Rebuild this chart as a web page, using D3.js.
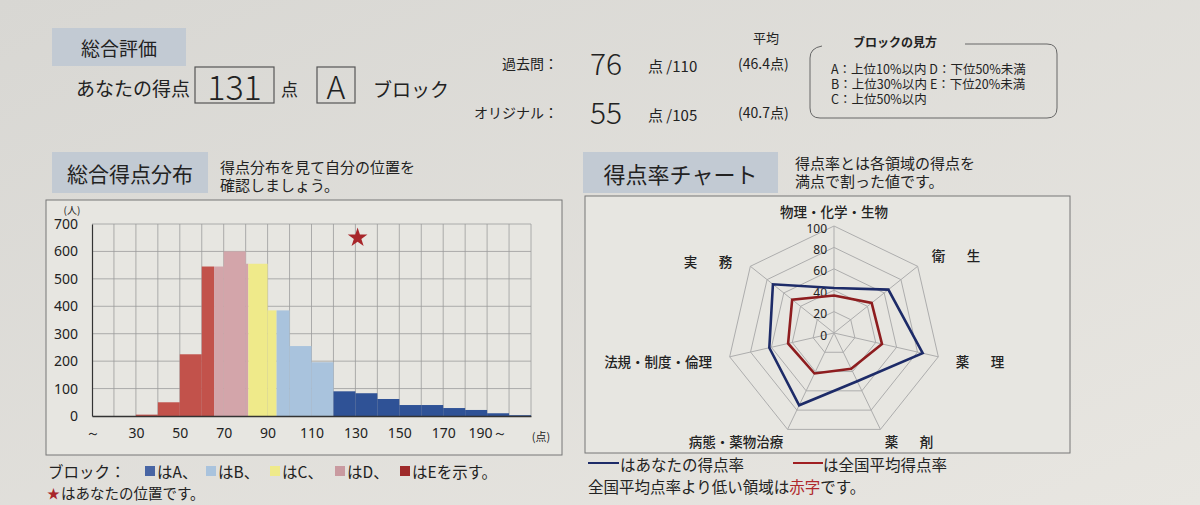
<!DOCTYPE html>
<html>
<head>
<meta charset="utf-8">
<script src="https://cdn.jsdelivr.net/npm/d3@7"></script>
<style>
body { margin: 0; background: #e3e1dc; }
svg { display: block; font-family: "Noto Sans CJK JP", "Noto Sans", sans-serif; }
</style>
</head>
<body>
<div id="sheet"></div>
<script>
// ---- 総合得点分布 (score histogram) ----
const binStart = [10, 20, 30, 40, 50, 60, 70, 80, 90, 100, 110, 120, 130, 140, 150, 160, 170, 180, 190, 200];
const binCount = [0, 0, 5, 50, 225, 545, 600, 555, 385, 255, 196, 90, 83, 62, 40, 40, 29, 22, 10, 3];
const yTicks = [0, 100, 200, 300, 400, 500, 600, 700];
const xTickVals = [10, 30, 50, 70, 90, 110, 130, 150, 170, 190];
const xTickText = ["～", "30", "50", "70", "90", "110", "130", "150", "170", "190～"];
// block boundaries (score where each block starts)
const blockName = ["E", "D", "C", "B", "A"];
const blockFrom = [0, 65.6, 81.2, 94.1, 120];
const myScore = 131;
const myMark = 650;

// ---- 得点率チャート (radar) ----
const areas = ["物理・化学・生物", "衛　生", "薬　理", "薬　剤", "病態・薬物治療", "法規・制度・倫理", "実　務"];
const myRate = [42, 65, 85, 50, 75, 62, 73];
const avgRate = [35, 45, 46, 37, 42, 44, 50];
const rateTicks = [0, 20, 40, 60, 80, 100];

const W = 1200, H = 505;
const svg = d3.select("#sheet").append("svg").attr("width", W).attr("height", H);

// paper
const defs = svg.append("defs");
const grad = defs.append("linearGradient").attr("id", "paper")
    .attr("x1", 0).attr("y1", 0).attr("x2", 1).attr("y2", 1);
grad.append("stop").attr("offset", "0%").attr("stop-color", "#d8d7d3");
grad.append("stop").attr("offset", "100%").attr("stop-color", "#e8e6e1");
svg.append("rect").attr("width", W).attr("height", H).attr("fill", "url(#paper)");

function txt(x, y, s, size, opt) {
    opt = opt || {};
    return svg.append("text")
        .attr("x", x).attr("y", y)
        .attr("font-size", size)
        .attr("dominant-baseline", "central")
        .attr("text-anchor", opt.anchor || "start")
        .attr("font-weight", opt.weight || 400)
        .attr("font-family", opt.family || null)
        .attr("fill", opt.fill || "#222")
        .text(s);
}

function headBox(x, y, w, h, label, size) {
    svg.append("rect").attr("x", x).attr("y", y).attr("width", w).attr("height", h)
        .attr("fill", "#c2cad3");
    txt(x + w / 2, y + h / 2, label, size, {anchor: "middle"});
}

// ================= 総合評価 =================
headBox(52, 28, 134, 38, "総合評価", 19);
txt(76, 87, "あなたの得点", 19);
svg.append("rect").attr("x", 195).attr("y", 67).attr("width", 79).attr("height", 36)
    .attr("fill", "none").attr("stroke", "#555").attr("stroke-width", 1.2);
txt(234.5, 85, "131", 34, {anchor: "middle", weight: 300});
txt(281, 88, "点", 17);
svg.append("rect").attr("x", 317).attr("y", 67).attr("width", 38).attr("height", 36)
    .attr("fill", "none").attr("stroke", "#555").attr("stroke-width", 1.2);
txt(336, 85, "A", 32, {anchor: "middle", weight: 300});
txt(373, 88, "ブロック", 19);

txt(766, 37, "平均", 13, {anchor: "middle"});
txt(558, 63, "過去問：", 14, {anchor: "end"});
txt(590, 62, "76", 30, {weight: 300});
txt(648, 65, "点 /110", 15);
txt(738, 63, "(46.4点)", 14);
txt(558, 112, "オリジナル：", 14, {anchor: "end"});
txt(590, 111, "55", 30, {weight: 300});
txt(648, 114, "点 /105", 15);
txt(738, 112, "(40.7点)", 14);

// block legend box
svg.append("path")
    .attr("d", "M965,44 L1047,44 Q1057,44 1057,54 L1057,108 Q1057,118 1047,118 L820,118 Q810,118 810,108 L810,58 Q810,48 822,46")
    .attr("fill", "none").attr("stroke", "#666").attr("stroke-width", 1);
txt(853, 41, "ブロックの見方", 12, {weight: 700});
txt(831, 68, "A：上位10%以内 D：下位50%未満", 12.5);
txt(831, 83, "B：上位30%以内 E：下位20%未満", 12.5);
txt(831, 98, "C：上位50%以内", 12.5);

// ================= 総合得点分布 =================
headBox(52, 152, 156, 41, "総合得点分布", 21);
txt(220, 166, "得点分布を見て自分の位置を", 15);
txt(220, 184, "確認しましょう。", 15);
svg.append("rect").attr("x", 46).attr("y", 200).attr("width", 516).attr("height", 255)
    .attr("fill", "#e7e6e1").attr("stroke", "#777").attr("stroke-width", 1);

const x = d3.scaleLinear().domain([10, 210]).range([92, 531]);
const y = d3.scaleLinear().domain([0, 700]).range([416, 224]);

const blockFill = {A: "#2f5296", B: "#a9c3dd", C: "#efea8a", D: "#d3a5aa", E: "#c2524b"};

const hist = svg.append("g");
// grid
hist.selectAll(".hgrid").data(yTicks.slice(1)).enter().append("line")
    .attr("x1", x(10)).attr("x2", x(210))
    .attr("y1", d => y(d)).attr("y2", d => y(d))
    .attr("stroke", "#9c9c9c").attr("stroke-width", 0.8);
hist.selectAll(".vgrid").data(binStart.slice(1).concat([210])).enter().append("line")
    .attr("x1", d => x(d)).attr("x2", d => x(d))
    .attr("y1", y(0)).attr("y2", y(700))
    .attr("stroke", "#9c9c9c").attr("stroke-width", 0.8);

// bars, split by block where a boundary falls inside a bin
const segs = [];
binStart.forEach((s, i) => {
    const e = s + 10;
    blockName.forEach((b, k) => {
        const lo = Math.max(s, blockFrom[k]);
        const hi = Math.min(e, k < blockFrom.length - 1 ? blockFrom[k + 1] : 999);
        if (hi > lo && binCount[i] > 0) segs.push({lo: lo, hi: hi, n: binCount[i], b: b});
    });
});
hist.selectAll(".bar").data(segs).enter().append("rect")
    .attr("x", d => x(d.lo)).attr("width", d => x(d.hi) - x(d.lo))
    .attr("y", d => y(d.n)).attr("height", d => y(0) - y(d.n))
    .attr("fill", d => blockFill[d.b]);

// axes
const yAxis = d3.axisLeft(y).tickValues(yTicks).tickSize(0).tickPadding(14);
hist.append("g").attr("transform", `translate(${x(10)},0)`).call(yAxis)
    .call(g => g.select(".domain").attr("stroke", "#333").attr("stroke-width", 1.2))
    .call(g => g.selectAll("text").attr("font-size", 14).attr("fill", "#222")
        .attr("font-family", "'Noto Sans', sans-serif"));
const xAxis = d3.axisBottom(x).tickValues(xTickVals).tickSize(0).tickPadding(12)
    .tickFormat((d, i) => xTickText[i]);
hist.append("g").attr("transform", `translate(0,${y(0)})`).call(xAxis)
    .call(g => g.select(".domain").attr("stroke", "#333").attr("stroke-width", 1.5))
    .call(g => g.selectAll("text").attr("font-size", 14).attr("fill", "#222")
        .attr("font-family", "'Noto Sans', sans-serif"));
txt(72, 209, "(人)", 10, {anchor: "middle"});
txt(541, 436, "(点)", 11, {anchor: "middle"});

// your position
hist.append("path")
    .attr("d", d3.symbol(d3.symbolStar, 120)())
    .attr("transform", `translate(${x(myScore)},${y(myMark)})`)
    .attr("fill", "#a8262a");

// legend
txt(48, 471, "ブロック：", 15.5);
const legendItems = [["A", 145, "はA、"], ["B", 206, "はB、"], ["C", 270, "はC、"], ["D", 335, "はD、"], ["E", 400, "はEを示す。"]];
legendItems.forEach(d => {
    const fill = d[0] === "E" ? "#9e2a2a" : d[0] === "A" ? "#4865a4" : d[0] === "D" ? "#c99aa0" : blockFill[d[0]];
    svg.append("rect").attr("x", d[1]).attr("y", 466).attr("width", 10).attr("height", 10).attr("fill", fill);
    txt(d[1] + 12, 471, d[2], 15.5);
});
txt(47, 492, "★", 13, {fill: "#a8262a"});
txt(61, 492, "はあなたの位置です。", 14.5);

// ================= 得点率チャート =================
headBox(583, 152, 195, 41, "得点率チャート", 22);
txt(795, 162, "得点率とは各領域の得点を", 15);
txt(795, 180, "満点で割った値です。", 15);
svg.append("rect").attr("x", 585).attr("y", 196).attr("width", 485).attr("height", 257)
    .attr("fill", "#e7e6e1").attr("stroke", "#777").attr("stroke-width", 1);

const cx = 834, cy = 333;
const r = d3.scaleLinear().domain([0, 100]).range([0, 107]);
const ang = d3.scalePoint().domain(d3.range(areas.length)).range([0, 2 * Math.PI * (areas.length - 1) / areas.length]);
const pt = (i, v) => [cx + r(v) * Math.sin(ang(i)), cy - r(v) * Math.cos(ang(i))];

const radar = svg.append("g");
rateTicks.slice(1).forEach(t => {
    radar.append("polygon")
        .attr("points", areas.map((a, i) => pt(i, t).join(",")).join(" "))
        .attr("fill", "none").attr("stroke", "#adadad").attr("stroke-width", 1);
});
areas.forEach((a, i) => {
    const p = pt(i, 100);
    radar.append("line").attr("x1", cx).attr("y1", cy).attr("x2", p[0]).attr("y2", p[1])
        .attr("stroke", "#adadad").attr("stroke-width", 1);
});
rateTicks.forEach(t => {
    radar.append("text").attr("x", cx - 7).attr("y", cy - r(t) + 2)
        .attr("text-anchor", "end").attr("dominant-baseline", "central")
        .attr("font-size", 12).attr("font-family", "'Noto Sans', sans-serif").attr("fill", "#222")
        .text(t);
});

const line = d3.line().curve(d3.curveLinearClosed);
radar.append("path").attr("d", line(avgRate.map((v, i) => pt(i, v))))
    .attr("fill", "none").attr("stroke", "#8e1d1f").attr("stroke-width", 2.6);
radar.append("path").attr("d", line(myRate.map((v, i) => pt(i, v))))
    .attr("fill", "none").attr("stroke", "#1d2b68").attr("stroke-width", 2.6);

// area labels
areas.forEach((a, i) => {
    const s = Math.sin(ang(i)), c = Math.cos(ang(i));
    const p = pt(i, 100);
    let lx = p[0] + 18 * s, ly = p[1] - 18 * c;
    const anchor = Math.abs(s) < 0.1 ? "middle" : s > 0 ? "start" : "end";
    if (i === 0) ly = p[1] - 15;
    if (c < -0.5) { ly = p[1] + 12; lx = p[0] + 10 * s; }
    if (c > 0.3 && s < 0) ly += 6;
    radar.append("text").attr("x", lx).attr("y", ly)
        .attr("text-anchor", anchor).attr("dominant-baseline", "central")
        .attr("font-size", 13.5).attr("font-weight", 500).attr("fill", "#222")
        .attr("letter-spacing", a.length === 3 ? 4 : 0)
        .text(a);
});

// radar legend
svg.append("line").attr("x1", 588).attr("x2", 619).attr("y1", 463).attr("y2", 463)
    .attr("stroke", "#1d2b68").attr("stroke-width", 2);
txt(620, 464, "はあなたの得点率", 15.5);
svg.append("line").attr("x1", 793).attr("x2", 823).attr("y1", 463).attr("y2", 463)
    .attr("stroke", "#a01f22").attr("stroke-width", 2);
txt(823, 464, "は全国平均得点率", 15.5);
const note = svg.append("text").attr("x", 588).attr("y", 486).attr("font-size", 15.5)
    .attr("dominant-baseline", "central").attr("fill", "#222");
note.append("tspan").text("全国平均点率より低い領域は");
note.append("tspan").attr("fill", "#b0282c").text("赤字");
note.append("tspan").text("です。");
</script>
</body>
</html>
